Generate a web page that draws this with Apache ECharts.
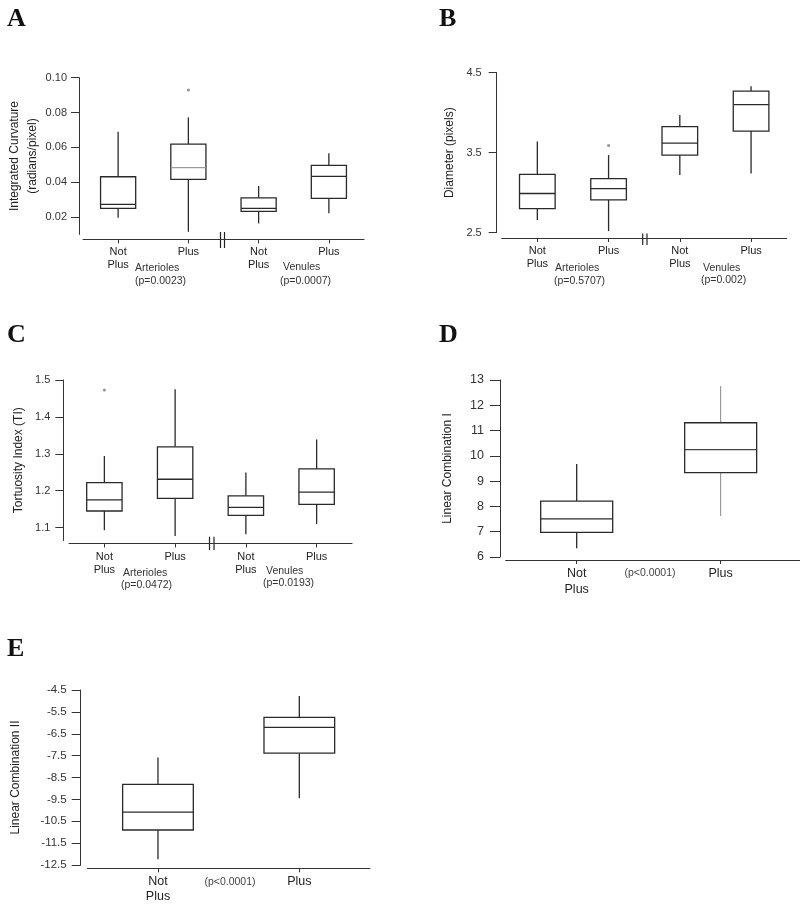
<!DOCTYPE html>
<html><head><meta charset="utf-8">
<script src="https://cdn.jsdelivr.net/npm/echarts@6/dist/echarts.min.js"></script>
<style>html,body{margin:0;padding:0;background:#fff}#c{width:800px;height:914px}</style>
</head><body><div id="c"></div>
<script>
// ---------- DATA ----------
const groupCats = ['Not\nPlus', 'Plus', 'Not\nPlus', 'Plus'];   // Arterioles (0,1) | Venules (2,3)
const pairCats = ['Not\nPlus', 'Plus'];

// each row: [min, Q1, median, Q3, max]
const curvatureBoxes = [
  [0.0195, 0.0249, 0.0272, 0.0431, 0.0690],
  [0.0115, 0.0416, 0.0483, 0.0619, 0.0772],
  [0.0163, 0.0232, 0.0249, 0.0310, 0.0378],
  [0.0221, 0.0307, 0.0433, 0.0497, 0.0566]
];
const curvatureOutliers = [[1, 0.0929]];
const curvatureTicks = [0.02, 0.04, 0.06, 0.08, 0.10];

const diameterBoxes = [
  [2.66, 2.80, 2.99, 3.23, 3.64],
  [2.52, 2.91, 3.05, 3.175, 3.47],
  [3.22, 3.47, 3.62, 3.825, 3.97],
  [3.24, 3.77, 4.10, 4.27, 4.33]
];
const diameterOutliers = [[1, 3.59]];
const diameterTicks = [2.5, 3.5, 4.5];

const tortuosityBoxes = [
  [1.093, 1.145, 1.175, 1.222, 1.294],
  [1.077, 1.179, 1.231, 1.319, 1.475],
  [1.082, 1.133, 1.155, 1.186, 1.249],
  [1.110, 1.163, 1.196, 1.259, 1.339]
];
const tortuosityOutliers = [[0, 1.473]];
const tortuosityTicks = [1.1, 1.2, 1.3, 1.4, 1.5];

const lc1Boxes = [
  [6.35, 6.97, 7.51, 8.21, 9.68],
  [7.62, 9.34, 10.25, 11.31, 12.76]
];
const lc1Ticks = [6, 7, 8, 9, 10, 11, 12, 13];

const lc2Boxes = [
  [-12.24, -10.90, -10.08, -8.81, -7.58],
  [-9.45, -7.39, -6.21, -5.75, -4.77]
];
const lc2Ticks = [-12.5, -11.5, -10.5, -9.5, -8.5, -7.5, -6.5, -5.5, -4.5];

const pValuesA = ['(p=0.0023)', '(p=0.0007)'];
const pValuesB = ['(p=0.5707)', '(p=0.002)'];
const pValuesC = ['(p=0.0472)', '(p=0.0193)'];
const pValueD = '(p<0.0001)';
const pValueE = '(p<0.0001)';

// ---------- STYLE ----------
const FONT = '"Liberation Sans", Arial, sans-serif';
const INK = '#2a2a2a';
const TXT = '#222';
const styleA = { median: [INK, '#9a9a9a', INK, INK], whisker: [INK, INK, INK, INK], ww: [1.3,1.3,1.3,1.3] };
const styleB = { median: [INK, INK, INK, INK], whisker: [INK, INK, INK, INK], ww: [1.3,1.3,1.3,1.3] };
const styleC = styleB;
const styleD = { median: [INK, '#444'], whisker: [INK, '#888'], ww: [1.3, 1] };
const styleE = { median: [INK, INK], whisker: [INK, INK], ww: [1.3, 1.3] };

function toRows(boxes) { return boxes.map((b, i) => [i].concat(b)); }

function makeRender(st) {
  return function (params, api) {
    const i = params.dataIndex;
    const x = api.value(0);
    const c = v => api.coord([x, v]);
    const lo = c(api.value(1)), q1 = c(api.value(2)), md = c(api.value(3)), q3 = c(api.value(4)), hi = c(api.value(5));
    const bw = api.size([1, 0])[0] * 0.5;
    const cx = lo[0];
    const wst = { stroke: st.whisker[i], lineWidth: st.ww[i] };
    return { type: 'group', children: [
      { type: 'line', shape: { x1: cx, y1: hi[1], x2: cx, y2: q3[1] }, style: wst },
      { type: 'line', shape: { x1: cx, y1: q1[1], x2: cx, y2: lo[1] }, style: wst },
      { type: 'rect', shape: { x: cx - bw / 2, y: q3[1], width: bw, height: q1[1] - q3[1] },
        style: { fill: '#fff', stroke: INK, lineWidth: 1.3 } },
      { type: 'line', shape: { x1: cx - bw / 2, y1: md[1], x2: cx + bw / 2, y2: md[1] },
        style: { stroke: st.median[i], lineWidth: 1.3 } }
    ]};
  };
}

function yAx(idx, min, max, ticks, dec, offset, tickLen, labelMargin, fs, name, gap, nameLH) {
  return {
    type: 'value', gridIndex: idx, min: min, max: max, offset: offset,
    axisLine: { show: true, onZero: false, lineStyle: { color: '#333', width: 1 } },
    axisTick: { show: true, length: tickLen, customValues: ticks, lineStyle: { color: '#333', width: 1 } },
    axisLabel: { customValues: ticks, margin: labelMargin, fontSize: fs, fontFamily: FONT, color: '#333',
      formatter: v => Number(v).toFixed(dec) },
    splitLine: { show: false },
    name: name, nameLocation: 'middle', nameGap: gap, nameRotate: 90,
    nameTextStyle: { fontSize: 12, fontFamily: FONT, color: TXT, lineHeight: nameLH }
  };
}

function xCat(idx, cats, offset, margin, fs, lh) {
  return {
    type: 'category', gridIndex: idx, data: cats, offset: offset, boundaryGap: true,
    axisLine: { show: true, onZero: false, lineStyle: { color: '#333', width: 1 } },
    axisTick: { show: true, alignWithLabel: true, length: 4, interval: 0, lineStyle: { color: '#333' } },
    axisLabel: { interval: 0, margin: margin, fontSize: fs, lineHeight: lh, fontFamily: FONT, color: TXT },
    splitLine: { show: false }
  };
}

function txt(x, y, s, fs, align, color) {
  return { type: 'text', x: x, y: y, silent: true,
    style: { text: s, fontSize: fs, fontFamily: FONT, fill: color || '#333', align: align || 'left', verticalAlign: 'middle' } };
}
function letter(x, y, s) {
  return { type: 'text', x: x, y: y, silent: true,
    style: { text: s, font: 'bold 26px "Liberation Serif", "Times New Roman", serif', fill: '#111', align: 'left', verticalAlign: 'middle' } };
}
function brk(xa, xb, y1, y2) {
  return [
    { type: 'line', silent: true, shape: { x1: xa, y1: y1, x2: xa, y2: y2 }, style: { stroke: '#222', lineWidth: 1.2 } },
    { type: 'line', silent: true, shape: { x1: xb, y1: y1, x2: xb, y2: y2 }, style: { stroke: '#222', lineWidth: 1.2 } }
  ];
}

const outlierStyle = { color: '#777' };

const option = {
  animation: false,
  backgroundColor: '#fff',
  grid: [
    { left: 83, top: 77.7, width: 281, height: 156.7 },
    { left: 501.7, top: 72.7, width: 285, height: 160 },
    { left: 69, top: 380, width: 283, height: 160.5 },
    { left: 505.7, top: 380, width: 294.3, height: 177 },
    { left: 87.3, top: 690, width: 282.7, height: 175 }
  ],
  xAxis: [
    xCat(0, groupCats, 5, 6, 11, 13),
    xCat(1, groupCats, 5.3, 6, 11, 13),
    xCat(2, groupCats, 3, 7, 11, 13),
    {
      type: 'value', gridIndex: 3, min: -0.493, max: 1.551, offset: 3,
      axisLine: { show: true, onZero: false, lineStyle: { color: '#333', width: 1 } },
      axisTick: { show: true, length: 4, customValues: [0, 1], lineStyle: { color: '#333' } },
      axisLabel: { customValues: [0, 1], margin: 6, fontSize: 12.5, lineHeight: 16, fontFamily: FONT, color: TXT,
        formatter: v => pairCats[Math.round(v)] },
      splitLine: { show: false }
    },
    xCat(4, pairCats, 3.3, 6, 12.5, 15)
  ],
  yAxis: [
    yAx(0, 0.01, 0.10, curvatureTicks, 2, 4, 8, 12, 11, 'Integrated Curvature\n(radians/pixel)', 37, 18),
    yAx(1, 2.5, 4.5, diameterTicks, 1, 5, 8, 15, 11, 'Diameter (pixels)', 40, 14),
    yAx(2, 1.065, 1.5, tortuosityTicks, 1, 5.7, 8, 13, 11, 'Tortuosity Index (TI)', 38, 14),
    yAx(3, 6, 13, lc1Ticks, 0, 5.7, 10, 16, 12.5, 'Linear Combination I', 45, 14),
    yAx(4, -12.5, -4.5, lc2Ticks, 1, 6.6, 9, 14, 11.5, 'Linear Combination II', 58, 14)
  ],
  series: [
    { type: 'custom', xAxisIndex: 0, yAxisIndex: 0, renderItem: makeRender(styleA), data: toRows(curvatureBoxes), encode: { x: 0, y: [1,2,3,4,5] } },
    { type: 'custom', xAxisIndex: 1, yAxisIndex: 1, renderItem: makeRender(styleB), data: toRows(diameterBoxes), encode: { x: 0, y: [1,2,3,4,5] } },
    { type: 'custom', xAxisIndex: 2, yAxisIndex: 2, renderItem: makeRender(styleC), data: toRows(tortuosityBoxes), encode: { x: 0, y: [1,2,3,4,5] } },
    { type: 'custom', xAxisIndex: 3, yAxisIndex: 3, renderItem: makeRender(styleD), data: toRows(lc1Boxes), encode: { x: 0, y: [1,2,3,4,5] } },
    { type: 'custom', xAxisIndex: 4, yAxisIndex: 4, renderItem: makeRender(styleE), data: toRows(lc2Boxes), encode: { x: 0, y: [1,2,3,4,5] } },
    { type: 'scatter', xAxisIndex: 0, yAxisIndex: 0, data: curvatureOutliers, symbol: 'circle', symbolSize: 3, itemStyle: outlierStyle },
    { type: 'scatter', xAxisIndex: 1, yAxisIndex: 1, data: diameterOutliers, symbol: 'circle', symbolSize: 3, itemStyle: outlierStyle },
    { type: 'scatter', xAxisIndex: 2, yAxisIndex: 2, data: tortuosityOutliers, symbol: 'circle', symbolSize: 3, itemStyle: outlierStyle }
  ],
  graphic: [
    letter(7, 19, 'A'), letter(439, 19, 'B'), letter(7, 335, 'C'), letter(439, 335, 'D'), letter(7, 649, 'E'),
    txt(135, 268, 'Arterioles', 10.5), txt(135, 281, pValuesA[0], 10.5),
    txt(283, 267, 'Venules', 10.5), txt(280, 281, pValuesA[1], 10.5),
    txt(555, 268, 'Arterioles', 10.5), txt(554, 281, pValuesB[0], 10.5),
    txt(703, 268, 'Venules', 10.5), txt(701, 280, pValuesB[1], 10.5),
    txt(123, 572.7, 'Arterioles', 10.5), txt(121, 585, pValuesC[0], 10.5),
    txt(266, 571, 'Venules', 10.5), txt(263, 582.7, pValuesC[1], 10.5),
    txt(650, 573.3, pValueD, 10.5, 'center', '#444'),
    txt(230, 882, pValueE, 10.5, 'center', '#444')
  ].concat(brk(220.5, 224.5, 232, 248), brk(642.7, 647, 233.5, 245), brk(209.5, 214, 536.7, 550))
};

const chart = echarts.init(document.getElementById('c'), null, { renderer: 'canvas' });
chart.setOption(option);
</script>
</body></html>
